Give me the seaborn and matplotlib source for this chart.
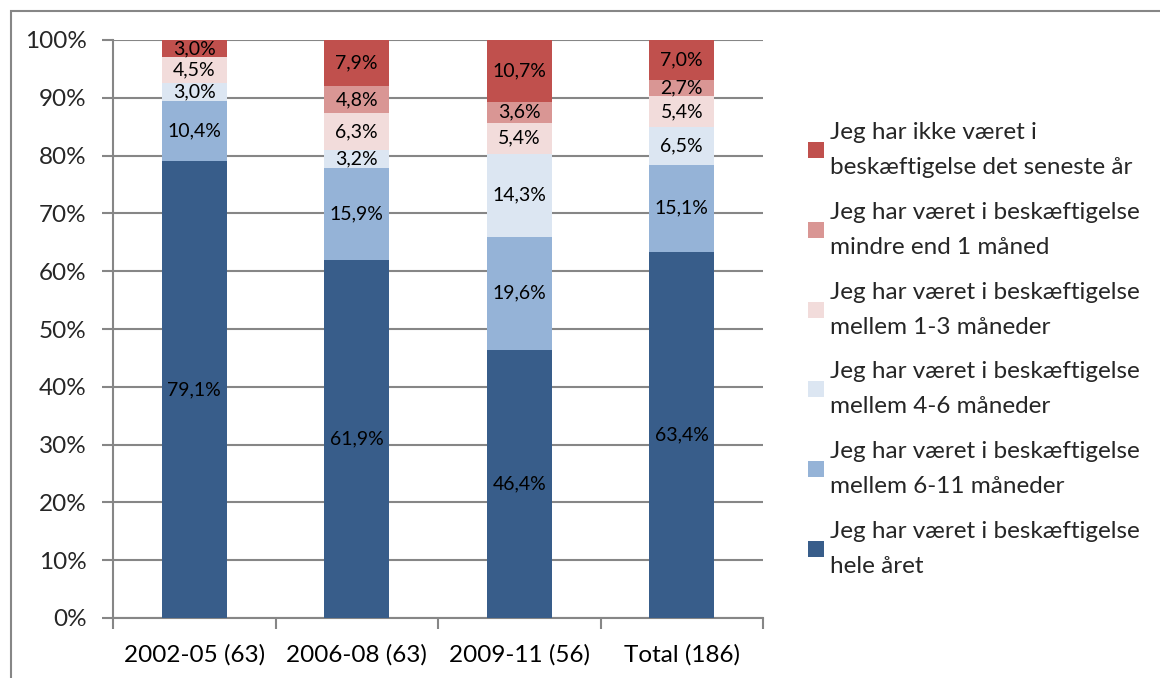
import matplotlib
matplotlib.use("Agg")
import matplotlib.pyplot as plt
import seaborn as sns
import pandas as pd
import numpy as np
from matplotlib.lines import Line2D
from matplotlib.patches import Rectangle

categories = ["2002-05 (63)", "2006-08 (63)", "2009-11 (56)", "Total (186)"]
series_names = [
    "Jeg har været i beskæftigelse\nhele året",
    "Jeg har været i beskæftigelse\nmellem 6-11 måneder",
    "Jeg har været i beskæftigelse\nmellem 4-6 måneder",
    "Jeg har været i beskæftigelse\nmellem 1-3 måneder",
    "Jeg har været i beskæftigelse\nmindre end 1 måned",
    "Jeg har ikke været i\nbeskæftigelse det seneste år",
]
hele_aaret = [79.1, 61.9, 46.4, 63.4]
m6_11 = [10.4, 15.9, 19.6, 15.1]
m4_6 = [3.0, 3.2, 14.3, 6.5]
m1_3 = [4.5, 6.3, 5.4, 5.4]
under1 = [0.0, 4.8, 3.6, 2.7]
ikke = [3.0, 7.9, 10.7, 7.0]
colors = ["#385D8A", "#95B3D7", "#DCE6F2", "#F2DCDB", "#D99694", "#C0504D"]
yticks = [0, 10, 20, 30, 40, 50, 60, 70, 80, 90, 100]

series = [hele_aaret, m6_11, m4_6, m1_3, under1, ikke]

sns.set_theme(style="white")
plt.rcParams["font.family"] = ["Lato", "DejaVu Sans"]

fig = plt.figure(figsize=(11.6, 6.78), dpi=100)
ax = fig.add_axes([113/1160, 1-618/678, 650/1160, 578/678])

vals = np.array(series)
cum = np.cumsum(vals, axis=0)
# 100% stacked chart: scale so each column totals 100%
cum = cum / cum[-1] * 100

for i in range(len(series) - 1, -1, -1):
    df = pd.DataFrame({"cat": categories, "val": cum[i]})
    sns.barplot(data=df, x="cat", y="val", color=colors[i], width=0.4,
                saturation=1, ax=ax, zorder=3, linewidth=0)

for i in range(len(series)):
    for j in range(len(categories)):
        v = series[i][j]
        if v <= 0:
            continue
        lo = cum[i - 1][j] if i > 0 else 0
        hi = cum[i][j]
        ax.text(j, (lo + hi) / 2, f"{v:.1f}%".replace(".", ","),
                ha="center", va="center", fontsize=14, color="black", zorder=4)

ax.set_ylim(0, 100)
ax.set_xlim(-0.5, 3.5)
ax.set_yticks(yticks)
ax.set_yticklabels([f"{t}%" for t in yticks], fontsize=17.5)
ax.set_xticks(range(len(categories)))
ax.set_xticklabels(categories, fontsize=17.5)
ax.set_xticks(np.arange(-0.5, 4.0, 1.0), minor=True)
ax.tick_params(axis="x", which="major", length=0, pad=19, colors="black")
ax.tick_params(axis="x", which="minor", length=8, width=1.5, color="#868686", direction="out", bottom=True)
ax.tick_params(axis="y", length=8, width=1.5, color="#868686", direction="out", left=True, pad=11)
ax.set_xlabel("")
ax.set_ylabel("")
ax.yaxis.grid(True, color="#868686", linewidth=1.5, zorder=0)
ax.set_axisbelow(True)
for s in ["top", "right"]:
    ax.spines[s].set_visible(False)
for s in ["left", "bottom"]:
    ax.spines[s].set_color("#868686")
    ax.spines[s].set_linewidth(1.5)

handles = [Line2D([], [], marker="s", linestyle="none", markersize=11,
                  markerfacecolor=colors[i], markeredgewidth=0) for i in range(5, -1, -1)]
labels = [series_names[i] for i in range(5, -1, -1)]
leg = fig.legend(handles, labels, loc="upper left", bbox_to_anchor=(795/1160, 1-110/678),
                 frameon=False, fontsize=17.5, handlelength=0.75, handletextpad=0.2,
                 labelspacing=0.97, borderpad=0)
for t in leg.get_texts():
    t.set_linespacing(1.83)

fig.patches.append(Rectangle((11/1160, -0.5), 2, 1.5 - 11/678, transform=fig.transFigure,
                             fill=False, edgecolor="#868686", linewidth=1.5))

fig.savefig("out.png", dpi=100)
